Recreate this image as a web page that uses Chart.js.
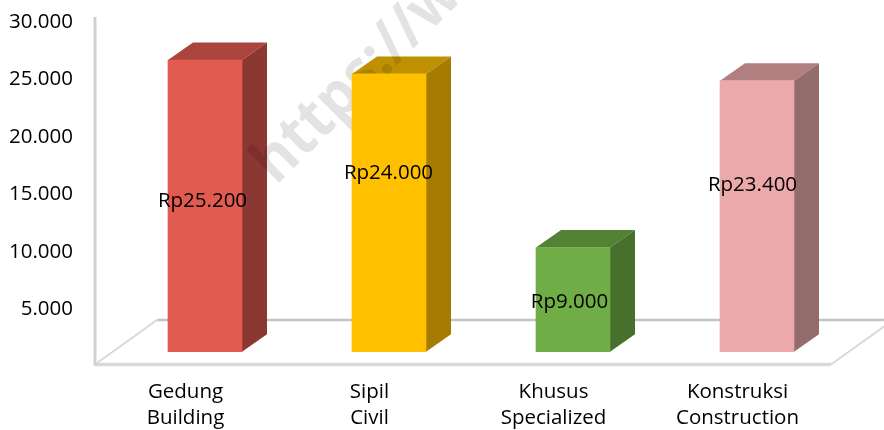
<!DOCTYPE html>
<html><head><meta charset="utf-8">
<style>html,body{margin:0;padding:0;background:#fff}#w{position:relative;width:884px;height:430px}</style>
<script src="https://cdn.jsdelivr.net/npm/chart.js@4"></script>
</head><body><div id="w"><canvas id="c" width="884" height="430"></canvas></div>
<script>
const categories = [['Gedung','Building'],['Sipil','Civil'],['Khusus','Specialized'],['Konstruksi','Construction']];
const values = [25200, 24000, 9000, 23400];
const valueLabels = ['Rp25.200','Rp24.000','Rp9.000','Rp23.400'];
const yTicks = [5000,10000,15000,20000,25000,30000];
const tickLabels = ['5.000','10.000','15.000','20.000','25.000','30.000'];
const frontColors = ['#E15B51','#FFC000','#70AD47','#ECA9AA'];
const topColors = ['#AB443D','#BF9000','#548235','#B17F80'];
const sideColors = ['#8B3732','#A67C00','#48702D','#946C6C'];

const FONT = '"Open Sans"';
const depth = {dx:25, dy:-17.5};
const floorDepth = {dx:62, dy:-44.5};
const frameShift = 18;
const frameRaise = 2.5;
const labelShift = [[-2.5,-4.5],[-0.5,-39.5],[-3.5,2.5],[-4.5,-31.5]];

const scene = {
  id:'scene',
  beforeDatasetsDraw(chart){
    const {ctx, chartArea:a} = chart;
    const left=a.left-frameShift, right=a.right-frameShift, bottom=a.bottom-frameRaise;
    ctx.save();
    ctx.strokeStyle='#c4c4c4'; ctx.lineWidth=2.5;
    ctx.beginPath();
    ctx.moveTo(left+floorDepth.dx, bottom+floorDepth.dy);
    ctx.lineTo(884, bottom+floorDepth.dy);
    ctx.stroke();
    ctx.strokeStyle='#d9d9d9'; ctx.lineWidth=2;
    ctx.beginPath();
    ctx.moveTo(left, bottom);
    ctx.lineTo(left+floorDepth.dx, bottom+floorDepth.dy);
    ctx.moveTo(right, bottom);
    ctx.lineTo(884, bottom+floorDepth.dy*(884-right)/floorDepth.dx);
    ctx.stroke();
    ctx.strokeStyle='#d9d9d9'; ctx.lineWidth=3.5;
    ctx.beginPath();
    ctx.moveTo(left, bottom);
    ctx.lineTo(right, bottom);
    ctx.stroke();
    ctx.strokeStyle='#d0d0d0'; ctx.lineWidth=3;
    ctx.beginPath();
    ctx.moveTo(left, 17);
    ctx.lineTo(left, bottom+1);
    ctx.stroke();
    chart.getDatasetMeta(0).data.forEach((bar,i)=>{
      const l=bar.x-bar.width/2, r=bar.x+bar.width/2, t=bar.y, b=bar.base;
      ctx.fillStyle=topColors[i];
      ctx.beginPath();
      ctx.moveTo(l,t); ctx.lineTo(l+depth.dx,t+depth.dy); ctx.lineTo(r+depth.dx,t+depth.dy); ctx.lineTo(r,t);
      ctx.closePath(); ctx.fill();
      ctx.fillStyle=sideColors[i];
      ctx.beginPath();
      ctx.moveTo(r,t); ctx.lineTo(r+depth.dx,t+depth.dy); ctx.lineTo(r+depth.dx,b+depth.dy); ctx.lineTo(r,b);
      ctx.closePath(); ctx.fill();
    });
    ctx.translate(276,186);
    ctx.rotate(-Math.PI/4);
    ctx.scale(0.93,1);
    ctx.fillStyle='rgba(0,0,0,0.11)';
    ctx.font='bold 62px '+FONT;
    ctx.textBaseline='alphabetic';
    ctx.fillText('https://www',0,0);
    ctx.restore();
  },
  afterDatasetsDraw(chart){
    const {ctx} = chart;
    ctx.save();
    ctx.fillStyle='#000';
    ctx.font='20.5px '+FONT;
    ctx.textAlign='center'; ctx.textBaseline='middle';
    chart.getDatasetMeta(0).data.forEach((bar,i)=>{
      const cy=(bar.y+bar.base)/2;
      ctx.fillText(valueLabels[i], bar.x+labelShift[i][0], cy+labelShift[i][1]);
    });
    ctx.restore();
  }
};

new Chart(document.getElementById('c'),{
  type:'bar',
  data:{labels:categories,datasets:[{data:values,backgroundColor:frontColors,yAxisID:'yBar',barThickness:74}]},
  options:{
    responsive:false,animation:false,
    layout:{padding:{left:0,right:35,top:22,bottom:0}},
    plugins:{legend:{display:false},tooltip:{enabled:false}},
    scales:{
      x:{afterFit(s){s.height=63;},grid:{display:false,drawTicks:false},border:{display:false},
         ticks:{color:'#000',font:{family:FONT,size:20.5,lineHeight:1.3},padding:11.5,maxRotation:0,autoSkip:false,labelOffset:-19.5}},
      y:{position:'left',min:0,max:30000,afterBuildTicks(s){s.ticks=yTicks.map(v=>({value:v}));},
         afterFit(s){s.width=113;s.paddingTop=0;s.paddingBottom=0;},
         grid:{display:false,drawTicks:false},border:{display:false},
         ticks:{color:'#000',font:{family:FONT,size:20.5},padding:40,
           callback(v){const i=yTicks.indexOf(v);return i<0?'':tickLabels[i];}}},
      yBar:{display:false,min:-1322,max:28484}
    }
  },
  plugins:[scene]
});
</script></body></html>
